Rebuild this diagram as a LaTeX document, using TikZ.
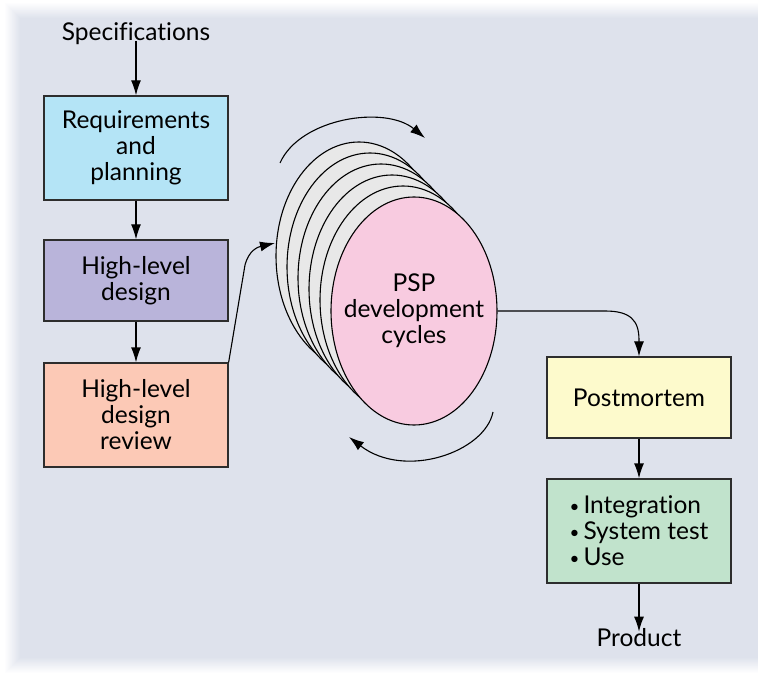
\documentclass[tikz,border=0pt]{standalone}
\usepackage{fontspec}
\setmainfont{Lato}[Ligatures=NoCommon]
\usetikzlibrary{arrows.meta,shapes.geometric}

\definecolor{paper}{RGB}{222,226,236}
\definecolor{reqblue}{RGB}{180,228,246}
\definecolor{hldviolet}{RGB}{185,180,218}
\definecolor{revsalmon}{RGB}{252,201,182}
\definecolor{pmyellow}{RGB}{253,250,204}
\definecolor{intgreen}{RGB}{193,227,204}
\definecolor{cyclepink}{RGB}{248,203,224}
\definecolor{cyclegray}{RGB}{232,232,232}
\definecolor{edge}{RGB}{45,45,45}

% small round bullet for the item list
\newcommand\listdot{{\fontsize{17}{17}\selectfont\raisebox{1.5pt}{\textbullet}}\hspace{4pt}}

\begin{document}
\begin{tikzpicture}[x=1pt,y=-1pt,
  every node/.style={font=\fontsize{24.5}{26}\selectfont, text=black},
  phase/.style={draw=edge, line width=1.3pt, minimum width=184pt, inner sep=0pt, align=center},
  label/.style={inner sep=0pt},
  cycle/.style={ellipse, draw=black, line width=1.1pt, minimum width=166pt, minimum height=228pt, inner sep=0pt},
  flow/.style={draw=black, line width=1.3pt, -{Latex[length=15pt,width=10pt]}},
  turn/.style={draw=black, line width=1.1pt, -{Latex[length=15pt,width=10pt]}}
]
\useasboundingbox (0,0) rectangle (758,679);

% paper sheet: nested rectangles fade from white at the margin to the paper tint
\fill[white] (0,0) rectangle (758,679);
\foreach \k in {0,...,16} {
  \pgfmathtruncatemacro\mix{100*\k/16}
  \fill[paper!\mix!white] (4+\k,2+\k) rectangle (758,674-\k);
}

% left column of phases
\node[label] (spec) at (136,34) {Specifications};
\node[phase, fill=reqblue, minimum height=104pt] (req) at (136,148) {Requirements\\and\\planning};
\node[phase, fill=hldviolet, minimum height=81pt] (hld) at (136,280.5) {High-level\\design};
\node[phase, fill=revsalmon, minimum height=104pt] (rev) at (136,415) {High-level\\design\\review};

% stack of development cycles
\foreach \i in {5,4,3,2,1} {
  \node[cycle, fill=cyclegray] (layer\i) at ({414-11*\i},{311-11*\i}) {};
}
\node[cycle, fill=cyclepink] (psp) at (414,311) {};
\node[label, align=center] (psptext) at (psp.center) {PSP\\development\\cycles};

% right column
\node[phase, fill=pmyellow, minimum height=81pt] (pm) at (639,397.5) {Postmortem};
\node[phase, fill=intgreen, minimum height=104pt, align=left] (use) at (639,531)
  {\listdot Integration\\\listdot System test\\\listdot Use};
\node[label] (prod) at (639,638) {Product};

% straight flow arrows
\draw[flow] ([yshift=4pt]spec.south) -- (req.north);
\draw[flow] (req.south) -- (hld.north);
\draw[flow] (hld.south) -- (rev.north);
\draw[flow] (pm.south) -- (use.north);
\draw[flow] (use.south) -- ([yshift=-3pt]prod.north);

% into and out of the cycles
\coordinate (entry) at (275,243);
\draw[flow, line width=1.1pt] (rev.north east) -- (245,265) .. controls (249,250) and (258,247) .. (entry);
\draw[flow, line width=1.1pt] (psp.east) -- (605,311) .. controls (630,311) and (639,320) .. (639,340) -- (pm.north);

% rotation arcs around the stack
\coordinate (topA) at (280,163);
\coordinate (topB) at (425,138);
\coordinate (botA) at (493,412);
\coordinate (botB) at (349,437);
\draw[turn] (topA) .. controls (300,118) and (385,105) .. (topB);
\draw[turn] (botA) .. controls (485,452) and (405,480) .. (botB);
\end{tikzpicture}
\end{document}
